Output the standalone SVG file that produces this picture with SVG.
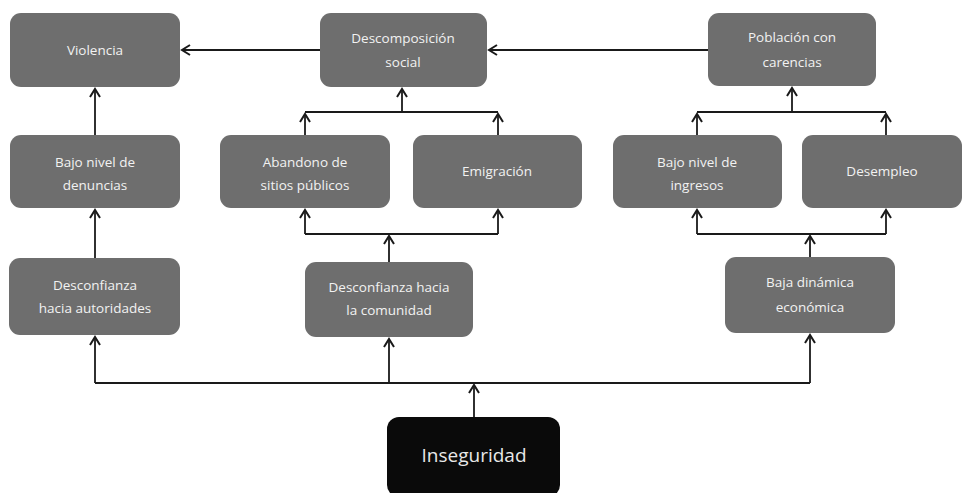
<svg xmlns="http://www.w3.org/2000/svg" width="965" height="493" viewBox="0 0 965 493">
<defs>
<marker id="arr" markerUnits="userSpaceOnUse" markerWidth="14" markerHeight="14" refX="10" refY="6" orient="auto">
<path d="M2,1 L10,6 L2,11" fill="none" stroke="#1a1a1a" stroke-width="2"/>
</marker>
<style>
.box{fill:#6e6e6e;}
.dark{fill:#0a0a0a;}
.t{font-family:"Open Sans","Liberation Sans",sans-serif;font-size:13.5px;fill:#f2f2f2;text-anchor:middle;}
.big{font-family:"Open Sans","Liberation Sans",sans-serif;font-size:19px;fill:#e8e8e8;text-anchor:middle;}
.c{fill:none;stroke:#1a1a1a;stroke-width:1.8;}
</style>
</defs>
<rect width="965" height="493" fill="#ffffff"/>
<g id="connectors">
<path class="c" d="M320,50 L182,50" marker-end="url(#arr)"/>
<path class="c" d="M708,50 L489,50" marker-end="url(#arr)"/>
<path class="c" d="M95,135 L95,89" marker-end="url(#arr)"/>
<path class="c" d="M95,258 L95,210" marker-end="url(#arr)"/>
<path class="c" d="M95,383 L95,337" marker-end="url(#arr)"/>
<path class="c" d="M95,383 L810,383"/>
<path class="c" d="M474,417 L474,385" marker-end="url(#arr)"/>
<path class="c" d="M389,383 L389,339" marker-end="url(#arr)"/>
<path class="c" d="M810,383 L810,335" marker-end="url(#arr)"/>
<path class="c" d="M389,262 L389,236" marker-end="url(#arr)"/>
<path class="c" d="M305,234 L498,234"/>
<path class="c" d="M305,234 L305,210" marker-end="url(#arr)"/>
<path class="c" d="M498,234 L498,210" marker-end="url(#arr)"/>
<path class="c" d="M305,135 L305,114" marker-end="url(#arr)"/>
<path class="c" d="M498,135 L498,114" marker-end="url(#arr)"/>
<path class="c" d="M305,112 L498,112"/>
<path class="c" d="M402,112 L402,89" marker-end="url(#arr)"/>
<path class="c" d="M810,257 L810,236" marker-end="url(#arr)"/>
<path class="c" d="M697,234 L886,234"/>
<path class="c" d="M697,234 L697,210" marker-end="url(#arr)"/>
<path class="c" d="M886,234 L886,210" marker-end="url(#arr)"/>
<path class="c" d="M697,135 L697,114" marker-end="url(#arr)"/>
<path class="c" d="M886,135 L886,114" marker-end="url(#arr)"/>
<path class="c" d="M697,112 L886,112"/>
<path class="c" d="M792,112 L792,88" marker-end="url(#arr)"/>
</g>
<g id="violencia"><rect class="box" x="10" y="13" width="170" height="74" rx="11"/><text class="t" x="95" y="55">Violencia</text></g>
<g id="descomposicion"><rect class="box" x="320" y="13" width="167" height="74" rx="11"/><text class="t" x="403" y="43">Descomposición</text><text class="t" x="403" y="67">social</text></g>
<g id="poblacion"><rect class="box" x="708" y="13" width="168" height="73" rx="11"/><text class="t" x="792" y="42">Población con</text><text class="t" x="792" y="67">carencias</text></g>
<g id="denuncias"><rect class="box" x="10" y="135" width="170" height="73" rx="11"/><text class="t" x="95" y="167">Bajo nivel de</text><text class="t" x="95" y="190">denuncias</text></g>
<g id="abandono"><rect class="box" x="220" y="135" width="170" height="73" rx="11"/><text class="t" x="305" y="167">Abandono de</text><text class="t" x="305" y="190">sitios públicos</text></g>
<g id="emigracion"><rect class="box" x="413" y="135" width="169" height="73" rx="11"/><text class="t" x="497" y="176">Emigración</text></g>
<g id="ingresos"><rect class="box" x="613" y="135" width="169" height="73" rx="11"/><text class="t" x="697" y="167">Bajo nivel de</text><text class="t" x="697" y="190">ingresos</text></g>
<g id="desempleo"><rect class="box" x="802" y="135" width="160" height="73" rx="11"/><text class="t" x="882" y="176">Desempleo</text></g>
<g id="autoridades"><rect class="box" x="9" y="258" width="171" height="77" rx="11"/><text class="t" x="95" y="290">Desconfianza</text><text class="t" x="95" y="313">hacia autoridades</text></g>
<g id="comunidad"><rect class="box" x="305" y="262" width="168" height="75" rx="11"/><text class="t" x="389" y="292">Desconfianza hacia</text><text class="t" x="389" y="315">la comunidad</text></g>
<g id="dinamica"><rect class="box" x="725" y="257" width="170" height="76" rx="11"/><text class="t" x="810" y="287">Baja dinámica</text><text class="t" x="810" y="312">económica</text></g>
<g id="inseguridad"><rect class="dark" x="387" y="417" width="173" height="80" rx="12"/><text class="big" x="474" y="462">Inseguridad</text></g>
</svg>
